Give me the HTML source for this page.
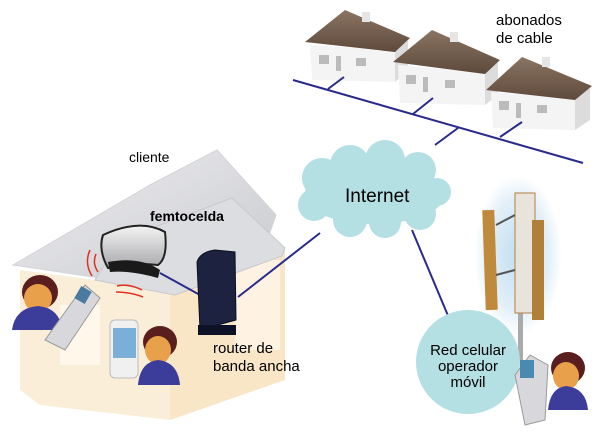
<!DOCTYPE html>
<html><head><meta charset="utf-8"><style>
html,body{margin:0;padding:0;background:#fff;}
svg{display:block;}
text{font-family:"Liberation Sans",sans-serif;fill:#000;}
</style></head><body>
<svg width="600" height="438" viewBox="0 0 600 438" xmlns="http://www.w3.org/2000/svg">
<defs>
<radialGradient id="glow" cx="0.5" cy="0.5" r="0.5"><stop offset="0" stop-color="#c2def0"/><stop offset="0.7" stop-color="#e2eff8"/><stop offset="1" stop-color="#fff"/></radialGradient>
<linearGradient id="roofc" x1="0" y1="0" x2="1" y2="1"><stop offset="0" stop-color="#eeeef0"/><stop offset="1" stop-color="#c8c9ce"/></linearGradient>
<linearGradient id="brown" x1="0" y1="0" x2="0" y2="1"><stop offset="0" stop-color="#8a7463"/><stop offset="1" stop-color="#5e4a3c"/></linearGradient>
<linearGradient id="femto" x1="0" y1="0" x2="0" y2="1"><stop offset="0" stop-color="#f4f4f4"/><stop offset="1" stop-color="#a8a8ac"/></linearGradient>
</defs>

<!-- client house body -->
<polygon points="20,270 170,290 170,420 40,405 20,390" fill="#fbeed8"/>
<polygon points="170,290 285,250 285,380 170,420" fill="#f8e6c6"/>
<rect x="235" y="260" width="45" height="90" fill="#fff6ea" opacity="0.8"/>
<rect x="60" y="305" width="40" height="60" fill="#fff7ea"/>
<!-- client roof -->
<polygon points="13,265 150,185 217,150 276,215 268,238 230,250 180,290" fill="url(#roofc)" stroke="#d4d4d8"/>
<polygon points="120,240 232,198 285,248 282,256 175,295 95,280" fill="#dcdde1" stroke="#c9c9cd"/>

<!-- cable houses -->
<g>
<polygon points="310,45 395,50 395,82 312,80" fill="#f4f4f4"/>
<polygon points="395,50 408,40 408,70 395,82" fill="#dcdcdc"/>
<polygon points="305,42 345,10 410,38 395,52" fill="url(#brown)"/>
<rect x="362" y="12" width="8" height="10" fill="#e5e5e5"/>
<rect x="319" y="55" width="10" height="9" fill="#bbb"/><rect x="336" y="56" width="5" height="15" fill="#bbb"/><rect x="356" y="58" width="10" height="8" fill="#bbb"/>
</g>
<g>
<polygon points="398,65 485,72 485,105 400,103" fill="#f4f4f4"/>
<polygon points="485,72 498,62 498,95 485,105" fill="#dcdcdc"/>
<polygon points="393,62 432,30 500,60 485,74" fill="url(#brown)"/>
<rect x="450" y="32" width="8" height="10" fill="#e5e5e5"/>
<rect x="406" y="75" width="10" height="9" fill="#bbb"/><rect x="423" y="77" width="5" height="15" fill="#bbb"/><rect x="445" y="80" width="10" height="8" fill="#bbb"/>
</g>
<g>
<polygon points="491,92 575,98 575,130 493,128" fill="#f4f4f4"/>
<polygon points="575,98 590,88 590,120 575,130" fill="#dcdcdc"/>
<polygon points="486,90 522,57 592,86 575,100" fill="url(#brown)"/>
<rect x="542" y="57" width="8" height="10" fill="#e5e5e5"/>
<rect x="499" y="101" width="10" height="9" fill="#bbb"/><rect x="516" y="103" width="5" height="15" fill="#bbb"/><rect x="537" y="105" width="10" height="8" fill="#bbb"/>
</g>

<!-- cable lines -->
<g stroke="#2a2a8c" stroke-width="2" fill="none">
<line x1="293" y1="80" x2="583" y2="163"/>
<line x1="328" y1="89" x2="344" y2="77"/>
<line x1="413" y1="114" x2="433" y2="98"/>
<line x1="500" y1="137" x2="522" y2="122"/>
<line x1="458" y1="128" x2="435" y2="145"/>
<line x1="320" y1="233" x2="238" y2="297"/>
<line x1="160" y1="273" x2="200" y2="295"/>
<line x1="412" y1="230" x2="449" y2="318"/>
</g>

<!-- cloud -->
<g fill="#b4dfe3">
<ellipse cx="374" cy="196" rx="70" ry="28"/>
<circle cx="322" cy="178" r="20"/><circle cx="350" cy="165" r="20"/><circle cx="385" cy="160" r="20"/><circle cx="418" cy="170" r="18"/>
<circle cx="437" cy="192" r="14"/><circle cx="420" cy="214" r="16"/><circle cx="385" cy="222" r="16"/><circle cx="350" cy="220" r="17"/><circle cx="314" cy="205" r="16"/>
</g>
<text x="345" y="202" font-size="19">Internet</text>

<!-- tower -->
<ellipse cx="518" cy="255" rx="44" ry="80" fill="url(#glow)"/>
<rect x="518" y="300" width="5" height="60" fill="#aaa"/>
<rect x="484" y="210" width="12" height="100" fill="#c08a3c" transform="rotate(-2 490 260)"/>
<rect x="515" y="193" width="20" height="120" fill="#e8e4dc" stroke="#b08040"/>
<rect x="532" y="220" width="12" height="100" fill="#b07f38"/>
<line x1="496" y1="225" x2="515" y2="215" stroke="#555" stroke-width="2"/>
<line x1="496" y1="275" x2="515" y2="270" stroke="#555" stroke-width="2"/>

<!-- red circle -->
<circle cx="468" cy="362" r="52" fill="#b4dfe3"/>
<text x="468" y="355" font-size="15" text-anchor="middle">Red celular</text>
<text x="468" y="371" font-size="15" text-anchor="middle">operador</text>
<text x="468" y="387" font-size="15" text-anchor="middle">móvil</text>

<!-- femtocell -->
<path d="M103,235 Q140,218 165,232 Q168,258 158,265 Q130,262 108,268 Q98,250 103,235Z" fill="url(#femto)" stroke="#222" stroke-width="2"/>
<path d="M108,262 Q140,256 160,270 L158,278 Q130,270 110,272Z" fill="#1a1a1a"/>
<g stroke="#e03020" stroke-width="1.5" fill="none">
<path d="M90,250 Q84,263 92,276"/><path d="M96,254 Q92,263 98,272"/>
<path d="M117,286 Q128,283 142,290"/><path d="M116,292 Q130,292 143,297"/>
</g>

<!-- router -->
<path d="M197,262 Q200,252 215,250 L235,252 L236,320 L200,330Z" fill="#1c2240" stroke="#0d1020"/>
<rect x="198" y="325" width="38" height="10" fill="#0e1226"/>

<!-- people -->
<g>
<ellipse cx="40" cy="292" rx="18" ry="17" fill="#5a1e1e"/>
<ellipse cx="38" cy="298" rx="14" ry="14" fill="#e8a04a"/>
<path d="M12,330 Q15,308 38,306 Q60,308 62,330Z" fill="#3c3c9a"/>
<path d="M70,305 L85,285 L100,298 L65,350 L45,340Z" fill="#d8d8dc" stroke="#999"/>
<rect x="77" y="288" width="12" height="14" fill="#4a7aa0" transform="rotate(30 83 295)"/>
</g>
<g>
<rect x="110" y="320" width="28" height="58" rx="5" fill="#f0f0f0" stroke="#bbb"/>
<rect x="113" y="328" width="23" height="30" fill="#7ab0d8"/>
<ellipse cx="160" cy="342" rx="17" ry="16" fill="#5a1e1e"/>
<ellipse cx="158" cy="350" rx="13" ry="14" fill="#e8a04a"/>
<path d="M138,385 Q140,362 158,360 Q178,362 180,385Z" fill="#3c3c9a"/>
</g>
<g>
<path d="M515,375 L530,355 L548,365 L545,420 L525,425Z" fill="#d8d8dc" stroke="#999"/>
<rect x="520" y="360" width="14" height="18" fill="#4a8ab0"/>
<ellipse cx="568" cy="368" rx="17" ry="16" fill="#5a1e1e"/>
<ellipse cx="566" cy="376" rx="13" ry="14" fill="#e8a04a"/>
<path d="M548,410 Q550,388 566,386 Q586,388 588,410Z" fill="#3c3c9a"/>
</g>

<!-- labels -->
<text x="129" y="162" font-size="14">cliente</text>
<text x="150" y="221" font-size="14" font-weight="bold">femtocelda</text>
<text x="213" y="353" font-size="15">router de</text>
<text x="213" y="371" font-size="15">banda ancha</text>
<text x="496" y="25" font-size="15">abonados</text>
<text x="496" y="43" font-size="15">de cable</text>
</svg>
</body></html>
